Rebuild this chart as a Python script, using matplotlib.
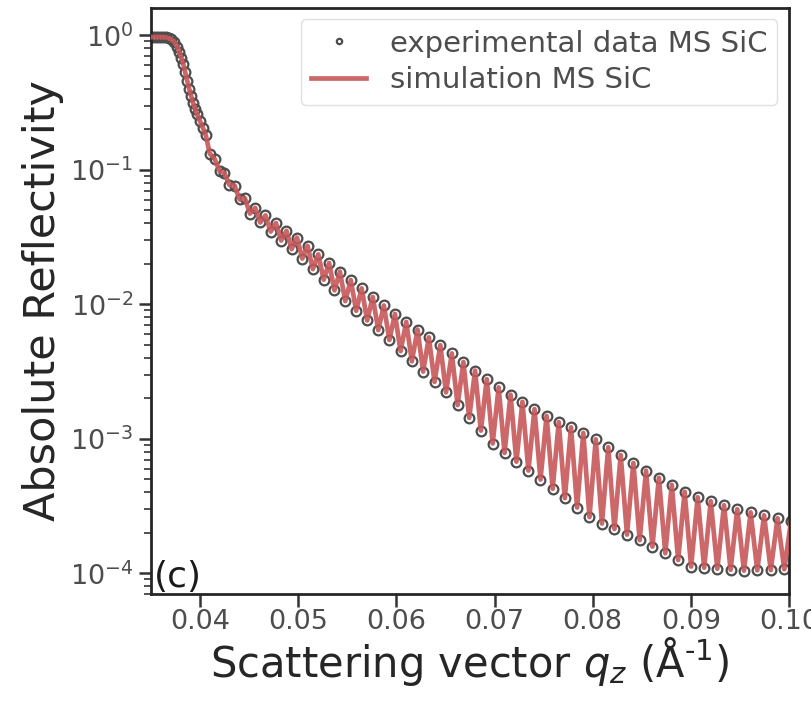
import numpy as np
import matplotlib.pyplot as plt

# reflectivity near the critical edge (q in 1/A, R absolute)
q_edge = [0.0350, 0.0353, 0.0356, 0.0359, 0.0362, 0.0365, 0.0368, 0.0371,
          0.0374, 0.0377, 0.0379, 0.0381, 0.0383, 0.0385, 0.0387, 0.0389,
          0.0391, 0.0393, 0.0395, 0.0397, 0.0400, 0.0403, 0.0406]
r_edge = [0.97, 0.97, 0.97, 0.97, 0.968, 0.965, 0.955, 0.93,
          0.89, 0.82, 0.75, 0.68, 0.61, 0.53, 0.46, 0.40,
          0.355, 0.315, 0.285, 0.26, 0.23, 0.205, 0.18]

# Kiessig fringe minima: position and log10(R)
q_min = [0.0410, 0.0420, 0.0430, 0.04404, 0.04509, 0.04614, 0.04720, 0.04827,
         0.04934, 0.05042, 0.05150, 0.05260, 0.05370, 0.05480, 0.05591, 0.05703,
         0.05816, 0.05929, 0.06043, 0.06158, 0.06273, 0.06389, 0.06506, 0.06624,
         0.06742, 0.06861, 0.06981, 0.07102, 0.07223, 0.07345, 0.07468, 0.07592,
         0.07716, 0.07841, 0.07967, 0.08094, 0.08221, 0.08349, 0.08478, 0.08608,
         0.08739, 0.08870, 0.09002, 0.09135, 0.09269, 0.09404, 0.09540, 0.09676,
         0.09813, 0.09951]
log_r_min = [-0.88, -1.01, -1.113, -1.221, -1.326, -1.392, -1.459, -1.526,
             -1.590, -1.660, -1.738, -1.817, -1.896, -1.976, -2.048, -2.120,
             -2.192, -2.265, -2.348, -2.424, -2.500, -2.577, -2.655, -2.749,
             -2.844, -2.939, -3.035, -3.105, -3.170, -3.236, -3.303, -3.372,
             -3.441, -3.511, -3.582, -3.630, -3.671, -3.712, -3.753, -3.801,
             -3.851, -3.901, -3.950, -3.958, -3.966, -3.974, -3.980, -3.978,
             -3.976, -3.970]

# fringe maxima: position and log10(R)
q_max = [0.0415, 0.0425, 0.04352, 0.04457, 0.04562, 0.04667, 0.04774, 0.04881,
         0.04988, 0.05096, 0.05205, 0.05315, 0.05425, 0.05536, 0.05647, 0.05760,
         0.05873, 0.05986, 0.06101, 0.06216, 0.06331, 0.06448, 0.06565, 0.06683,
         0.06802, 0.06921, 0.07042, 0.07163, 0.07284, 0.07407, 0.07530, 0.07654,
         0.07779, 0.07904, 0.08031, 0.08158, 0.08285, 0.08414, 0.08543, 0.08674,
         0.08805, 0.08936, 0.09069, 0.09202, 0.09337, 0.09472, 0.09608, 0.09745,
         0.09882, 0.10020]
log_r_max = [-0.92, -1.025, -1.117, -1.211, -1.283, -1.339, -1.396, -1.454,
             -1.504, -1.566, -1.629, -1.693, -1.757, -1.820, -1.882, -1.946,
             -2.009, -2.072, -2.131, -2.188, -2.246, -2.304, -2.365, -2.429,
             -2.493, -2.557, -2.618, -2.672, -2.725, -2.779, -2.830, -2.876,
             -2.915, -2.957, -3.004, -3.063, -3.121, -3.180, -3.237, -3.290,
             -3.342, -3.394, -3.435, -3.464, -3.494, -3.524, -3.547, -3.569,
             -3.591, -3.610]


def build_curve():
    '''merge edge points and fringe extrema into one sorted curve'''
    q = np.concatenate([q_edge, q_min, q_max])
    r = np.concatenate([r_edge, 10.0 ** np.array(log_r_min), 10.0 ** np.array(log_r_max)])
    order = np.argsort(q)
    return q[order], r[order]


q, r = build_curve()

plt.rcParams['font.family'] = ['DejaVu Sans']
fig = plt.figure(figsize=(8.11, 7.09), dpi=100)
ax = fig.add_axes([0.186, 0.162, 0.787, 0.827])

ax.plot(q, r, linestyle='none', marker='o', markersize=7,
        markerfacecolor='none', markeredgecolor='#4d4d4d', markeredgewidth=1.6,
        zorder=2, label='experimental data MS SiC')
ax.plot(q, r, color='#c8585a', linewidth=3.4, alpha=0.9, zorder=3,
        solid_joinstyle='round', label='simulation MS SiC')

ax.set_yscale('log')
ax.set_xlim(0.035, 0.100)
ax.set_ylim(7e-5, 1.6)
ax.set_xticks([0.04, 0.05, 0.06, 0.07, 0.08, 0.09, 0.10])
ax.set_xticklabels(['0.04', '0.05', '0.06', '0.07', '0.08', '0.09', '0.10'])

ax.set_xlabel(r'Scattering vector $q_z$ (Å$^{\text{-}1}$)', fontsize=30,
              color='0.15', labelpad=0)
ax.set_ylabel('Absolute Reflectivity', fontsize=31, color='0.15', labelpad=4)

ax.tick_params(axis='both', which='major', labelsize=19.5, labelcolor='0.3',
               length=9, width=1.8, color='0.2', direction='out')
ax.tick_params(axis='x', which='major', pad=2)
ax.tick_params(axis='y', which='minor', length=5, width=1.2, color='0.2')
for sp in ax.spines.values():
    sp.set_linewidth(2)
    sp.set_color('0.15')

ax.text(0.005, 0.012, '(c)', transform=ax.transAxes, fontsize=26, color='0.1')

leg = ax.legend(loc='upper right', fontsize=21, markerscale=0.55,
                handlelength=1.9, borderpad=0.35, labelspacing=0.3,
                handletextpad=0.8, borderaxespad=0.4,
                frameon=True, fancybox=True)
leg.get_frame().set_edgecolor('0.85')
for t in leg.get_texts():
    t.set_color('0.3')

fig.savefig('out.png', dpi=100)
